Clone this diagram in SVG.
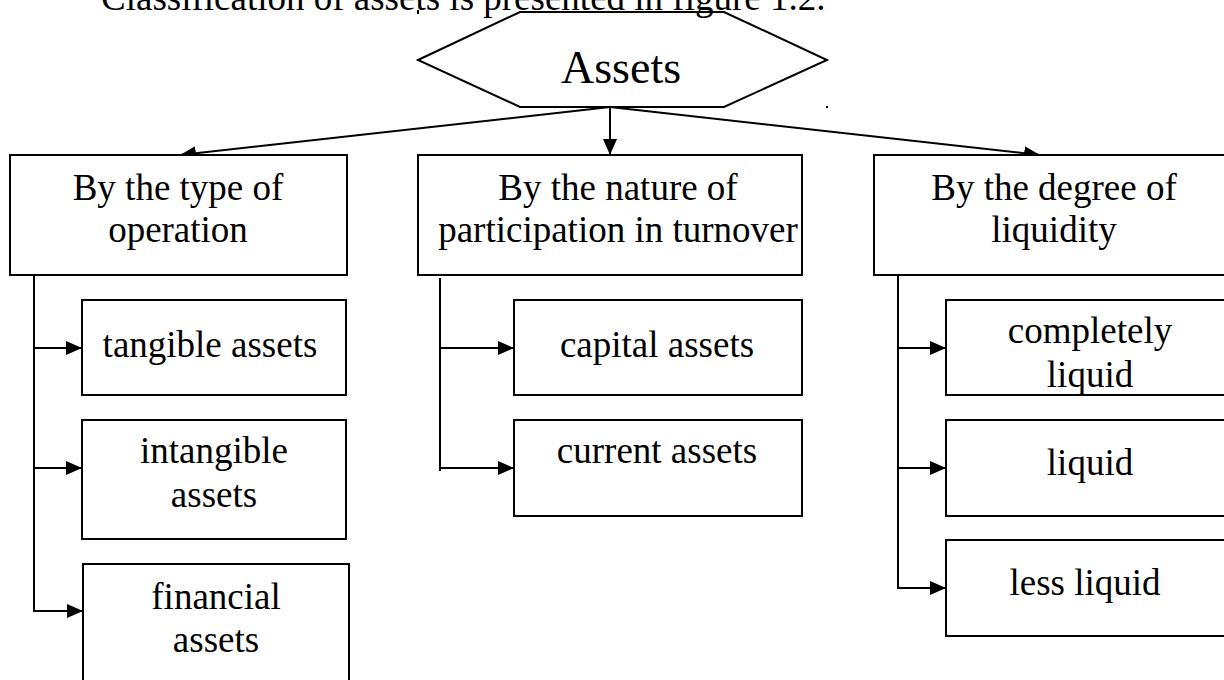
<svg xmlns="http://www.w3.org/2000/svg" width="1224" height="680" viewBox="0 0 1224 680">
  <style>
    text { font-family: "Liberation Serif", "Times New Roman", serif; fill: #000; text-anchor: middle; }
    .t { font-size: 37px; }
    .caption { font-size: 37px; text-anchor: start; }
    .big { font-size: 46px; }
    .box { fill: #fff; stroke: #000; stroke-width: 2; }
    .hex { fill: none; stroke: #000; stroke-width: 2; }
    .link { fill: none; stroke: #000; stroke-width: 2; }
  </style>
  <defs>
    <marker id="arrow" viewBox="0 0 16 14" refX="16" refY="7" markerWidth="16" markerHeight="14" markerUnits="userSpaceOnUse" orient="auto">
      <path d="M0,0 L16,7 L0,14 z" fill="#000"/>
    </marker>
  </defs>

  <rect width="1224" height="680" fill="#fff"/>

  <!-- caption line above the chart -->
  <text class="caption" x="101" y="10">Classification of assets is presented in figure 1.2.</text>
  <rect x="417" y="10" width="2" height="4" fill="#000"/>
  <rect x="826" y="106" width="2" height="2" fill="#000"/>

  <!-- connectors -->
  <g id="connectors" class="link">
    <line x1="610" y1="107" x2="180" y2="155" marker-end="url(#arrow)"/>
    <line x1="610" y1="107" x2="610" y2="155" marker-end="url(#arrow)"/>
    <line x1="610" y1="107" x2="1040" y2="155" marker-end="url(#arrow)"/>

    <line x1="34" y1="275" x2="34" y2="612"/>
    <line x1="33" y1="348" x2="82" y2="348" marker-end="url(#arrow)"/>
    <line x1="33" y1="468" x2="82" y2="468" marker-end="url(#arrow)"/>
    <line x1="33" y1="611" x2="83" y2="611" marker-end="url(#arrow)"/>

    <line x1="440" y1="278" x2="440" y2="471"/>
    <line x1="439" y1="348" x2="514" y2="348" marker-end="url(#arrow)"/>
    <line x1="439" y1="468" x2="514" y2="468" marker-end="url(#arrow)"/>

    <line x1="898" y1="275" x2="898" y2="589"/>
    <line x1="897" y1="348" x2="946" y2="348" marker-end="url(#arrow)"/>
    <line x1="897" y1="468" x2="946" y2="468" marker-end="url(#arrow)"/>
    <line x1="897" y1="588" x2="946" y2="588" marker-end="url(#arrow)"/>
  </g>

  <!-- root -->
  <g id="assets">
    <polygon class="hex" points="418,60 520,12 724,12 827,60 724,107 520,107"/>
    <text class="big" x="621" y="83">Assets</text>
  </g>

  <!-- classification criteria -->
  <g id="by-type">
    <rect class="box" x="10" y="155" width="337" height="120"/>
    <text class="t" x="178" y="200">By the type of</text>
    <text class="t" x="178" y="242">operation</text>
  </g>
  <g id="by-nature">
    <rect class="box" x="418" y="155" width="384" height="120"/>
    <text class="t" x="618" y="200">By the nature of</text>
    <text class="t" x="618" y="242">participation in turnover</text>
  </g>
  <g id="by-liquidity">
    <rect class="box" x="874" y="155" width="360" height="120"/>
    <text class="t" x="1054" y="200">By the degree of</text>
    <text class="t" x="1054" y="242">liquidity</text>
  </g>

  <!-- by type of operation -->
  <g id="tangible">
    <rect class="box" x="82" y="300" width="264" height="95"/>
    <text class="t" x="210" y="357">tangible assets</text>
  </g>
  <g id="intangible">
    <rect class="box" x="82" y="420" width="264" height="119"/>
    <text class="t" x="214" y="463">intangible</text>
    <text class="t" x="214" y="507">assets</text>
  </g>
  <g id="financial">
    <rect class="box" x="83" y="564" width="266" height="130"/>
    <text class="t" x="216" y="609">financial</text>
    <text class="t" x="216" y="652">assets</text>
  </g>

  <!-- by participation in turnover -->
  <g id="capital">
    <rect class="box" x="514" y="300" width="288" height="95"/>
    <text class="t" x="657" y="357">capital assets</text>
  </g>
  <g id="current">
    <rect class="box" x="514" y="420" width="288" height="96"/>
    <text class="t" x="657" y="463">current assets</text>
  </g>

  <!-- by liquidity -->
  <g id="completely-liquid">
    <rect class="box" x="946" y="300" width="290" height="95"/>
    <text class="t" x="1090" y="343">completely</text>
    <text class="t" x="1090" y="387">liquid</text>
  </g>
  <g id="liquid">
    <rect class="box" x="946" y="420" width="290" height="96"/>
    <text class="t" x="1090" y="475">liquid</text>
  </g>
  <g id="less-liquid">
    <rect class="box" x="946" y="540" width="290" height="96"/>
    <text class="t" x="1085" y="595">less liquid</text>
  </g>
</svg>
